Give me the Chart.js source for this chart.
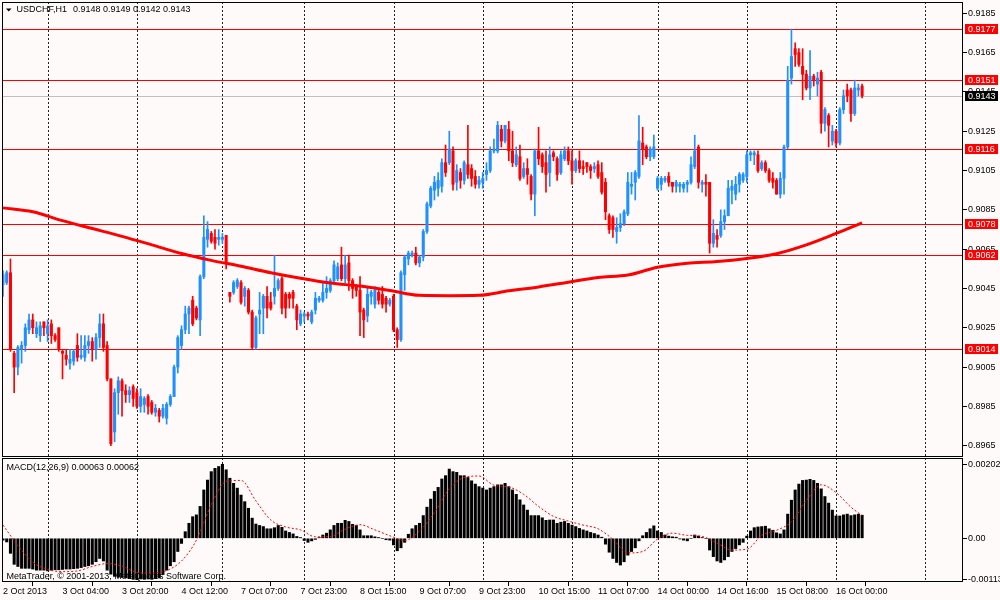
<!DOCTYPE html>
<html>
<head>
<meta charset="utf-8">
<script src="https://cdn.jsdelivr.net/npm/chart.js@4.4.1/dist/chart.umd.min.js"></script>
<style>
html, body { margin: 0; padding: 0; background: #FFFAFA; }
#wrap { position: relative; width: 1000px; height: 600px; background: #FFFAFA; overflow: hidden; }
#main { position: absolute; left: 0; top: 0; }
#macd { position: absolute; left: 0; top: 457px; }
</style>
</head>
<body>
<div id="wrap">
  <canvas id="main" width="1000" height="458"></canvas>
  <canvas id="macd" width="1000" height="143"></canvas>
</div>
<script>
// USDCHF H1, one entry per hourly bar (232 bars)
const opens = [
  0.9047,0.9048,0.9053,0.9012,0.9005,0.9014,0.9016,0.9024,0.9029,0.9022,
  0.9021,0.9028,0.9022,0.9027,0.9021,0.9025,0.9013,0.9011,0.9007,0.9008,
  0.9016,0.9010,0.9010,0.9016,0.9018,0.9014,0.9020,0.9027,0.9016,0.8999,
  0.8972,0.8992,0.8998,0.8993,0.8991,0.8995,0.8992,0.8985,0.8986,0.8990,
  0.8987,0.8982,0.8983,0.8980,0.8979,0.8986,0.8990,0.9005,0.9016,0.9024,
  0.9032,0.9039,0.9035,0.9029,0.9051,0.9070,0.9073,0.9071,0.9070,0.9070,
  0.9072,0.9043,0.9043,0.9046,0.9048,0.9041,0.9044,0.9033,0.9015,0.9032,
  0.9035,0.9041,0.9038,0.9041,0.9045,0.9050,0.9042,0.9042,0.9043,0.9036,
  0.9027,0.9031,0.9032,0.9028,0.9034,0.9039,0.9039,0.9043,0.9044,0.9049,
  0.9050,0.9057,0.9050,0.9058,0.9049,0.9046,0.9044,0.9034,0.9031,0.9041,
  0.9037,0.9043,0.9042,0.9040,0.9037,0.9041,0.9024,0.9019,0.9052,0.9060,
  0.9062,0.9063,0.9058,0.9061,0.9074,0.9087,0.9095,0.9096,0.9097,0.9109,
  0.9109,0.9115,0.9099,0.9104,0.9100,0.9108,0.9106,0.9102,0.9098,0.9099,
  0.9103,0.9105,0.9115,0.9115,0.9126,0.9120,0.9126,0.9115,0.9108,0.9112,
  0.9102,0.9106,0.9102,0.9093,0.9115,0.9113,0.9109,0.9104,0.9114,0.9111,
  0.9104,0.9111,0.9115,0.9110,0.9105,0.9110,0.9107,0.9109,0.9107,0.9106,
  0.9108,0.9104,0.9099,0.9082,0.9081,0.9074,0.9076,0.9078,0.9083,0.9097,
  0.9099,0.9102,0.9119,0.9117,0.9112,0.9112,0.9096,0.9098,0.9100,0.9102,
  0.9099,0.9097,0.9097,0.9096,0.9098,0.9099,0.9107,0.9117,0.9098,0.9099,
  0.9099,0.9068,0.9072,0.9072,0.9079,0.9082,0.9095,0.9093,0.9098,0.9100,
  0.9102,0.9113,0.9113,0.9113,0.9106,0.9109,0.9105,0.9101,0.9100,0.9093,
  0.9101,0.9117,0.9152,0.9167,0.9165,0.9158,0.9154,0.9147,0.9153,0.9149,
  0.9155,0.9129,0.9133,0.9120,0.9125,0.9119,0.9136,0.9146,0.9146,0.9134,
  0.9146,0.9148
];
const highs = [
  0.9054,0.9054,0.9060,0.9013,0.9016,0.9018,0.9027,0.9032,0.9032,0.9028,
  0.9028,0.9028,0.9029,0.9029,0.9022,0.9025,0.9014,0.9014,0.9014,0.9014,
  0.9022,0.9021,0.9021,0.9021,0.9020,0.9022,0.9032,0.9032,0.9018,0.8999,
  0.8994,0.9000,0.8999,0.8996,0.8995,0.8996,0.8994,0.8994,0.8990,0.8991,
  0.8988,0.8986,0.8984,0.8986,0.8987,0.8991,0.9006,0.9021,0.9026,0.9036,
  0.9036,0.9041,0.9036,0.9052,0.9082,0.9079,0.9074,0.9075,0.9075,0.9073,
  0.9072,0.9043,0.9049,0.9050,0.9049,0.9046,0.9045,0.9034,0.9031,0.9043,
  0.9042,0.9046,0.9043,0.9062,0.9050,0.9051,0.9043,0.9043,0.9044,0.9037,
  0.9034,0.9033,0.9033,0.9034,0.9043,0.9041,0.9048,0.9051,0.9050,0.9059,
  0.9058,0.9066,0.9062,0.9062,0.9050,0.9047,0.9051,0.9035,0.9046,0.9044,
  0.9046,0.9044,0.9046,0.9041,0.9040,0.9042,0.9025,0.9054,0.9062,0.9064,
  0.9064,0.9066,0.9062,0.9075,0.9089,0.9097,0.9102,0.9104,0.9111,0.9118,
  0.9125,0.9117,0.9108,0.9106,0.9110,0.9128,0.9108,0.9105,0.9102,0.9104,
  0.9109,0.9117,0.9121,0.9130,0.9128,0.9128,0.9130,0.9125,0.9117,0.9118,
  0.9109,0.9111,0.9103,0.9116,0.9127,0.9114,0.9115,0.9117,0.9115,0.9112,
  0.9115,0.9117,0.9117,0.9115,0.9111,0.9115,0.9110,0.9109,0.9108,0.9109,
  0.9110,0.9109,0.9101,0.9083,0.9082,0.9081,0.9083,0.9085,0.9104,0.9104,
  0.9105,0.9133,0.9127,0.9118,0.9117,0.9123,0.9102,0.9102,0.9102,0.9104,
  0.9099,0.9100,0.9099,0.9099,0.9100,0.9112,0.9123,0.9118,0.9100,0.9103,
  0.9099,0.9080,0.9075,0.9085,0.9085,0.9100,0.9100,0.9102,0.9104,0.9104,
  0.9115,0.9115,0.9115,0.9115,0.9110,0.9110,0.9106,0.9104,0.9101,0.9104,
  0.9118,0.9158,0.9177,0.9170,0.9167,0.9167,0.9156,0.9166,0.9154,0.9155,
  0.9156,0.9137,0.9134,0.9128,0.9126,0.9137,0.9146,0.9149,0.9147,0.9151,
  0.9149,0.9149
];
const lows = [
  0.9041,0.9047,0.9013,0.8992,0.9001,0.9007,0.9013,0.9022,0.9022,0.9020,
  0.9018,0.9021,0.9018,0.9017,0.9018,0.9013,0.8999,0.9006,0.9004,0.9006,
  0.9008,0.9009,0.9008,0.9012,0.9008,0.9009,0.9015,0.9013,0.8998,0.8965,
  0.8967,0.8981,0.8980,0.8987,0.8987,0.8985,0.8984,0.8982,0.8982,0.8981,
  0.8981,0.8980,0.8977,0.8979,0.8976,0.8985,0.8990,0.9002,0.9014,0.9022,
  0.9022,0.9026,0.9029,0.9021,0.9050,0.9066,0.9068,0.9065,0.9067,0.9068,
  0.9055,0.9038,0.9042,0.9045,0.9037,0.9036,0.9032,0.9014,0.9014,0.9022,
  0.9022,0.9030,0.9034,0.9037,0.9044,0.9032,0.9030,0.9035,0.9035,0.9024,
  0.9026,0.9028,0.9029,0.9027,0.9032,0.9038,0.9038,0.9040,0.9043,0.9048,
  0.9049,0.9049,0.9048,0.9044,0.9040,0.9041,0.9021,0.9020,0.9028,0.9037,
  0.9035,0.9037,0.9035,0.9033,0.9036,0.9023,0.9015,0.9018,0.9044,0.9057,
  0.9061,0.9057,0.9056,0.9059,0.9073,0.9086,0.9090,0.9092,0.9094,0.9102,
  0.9108,0.9095,0.9095,0.9096,0.9098,0.9101,0.9097,0.9096,0.9096,0.9096,
  0.9100,0.9104,0.9114,0.9114,0.9117,0.9119,0.9110,0.9107,0.9107,0.9100,
  0.9101,0.9098,0.9090,0.9082,0.9108,0.9104,0.9094,0.9097,0.9110,0.9100,
  0.9103,0.9110,0.9108,0.9098,0.9104,0.9104,0.9103,0.9104,0.9101,0.9104,
  0.9101,0.9093,0.9080,0.9073,0.9071,0.9068,0.9074,0.9077,0.9082,0.9093,
  0.9090,0.9101,0.9108,0.9111,0.9110,0.9111,0.9095,0.9095,0.9099,0.9097,
  0.9094,0.9094,0.9094,0.9094,0.9094,0.9098,0.9106,0.9096,0.9094,0.9092,
  0.9063,0.9066,0.9066,0.9071,0.9075,0.9082,0.9088,0.9090,0.9094,0.9099,
  0.9099,0.9110,0.9108,0.9104,0.9105,0.9104,0.9099,0.9096,0.9093,0.9091,
  0.9093,0.9116,0.9149,0.9158,0.9158,0.9141,0.9146,0.9141,0.9148,0.9143,
  0.9124,0.9125,0.9117,0.9118,0.9117,0.9118,0.9134,0.9140,0.9130,0.9133,
  0.9143,0.9142
];
const closes = [
  0.9052,0.9053,0.9014,0.9005,0.9015,0.9016,0.9025,0.9029,0.9025,0.9025,
  0.9026,0.9025,0.9026,0.9021,0.9019,0.9014,0.9012,0.9009,0.9009,0.9013,
  0.9010,0.9011,0.9016,0.9018,0.9014,0.9020,0.9027,0.9015,0.8999,0.8966,
  0.8992,0.8998,0.8993,0.8991,0.8993,0.8989,0.8985,0.8990,0.8989,0.8985,
  0.8982,0.8984,0.8980,0.8984,0.8986,0.8990,0.9005,0.9020,0.9024,0.9032,
  0.9035,0.9027,0.9030,0.9051,0.9071,0.9075,0.9069,0.9068,0.9071,0.9071,
  0.9058,0.9041,0.9048,0.9049,0.9038,0.9045,0.9033,0.9015,0.9030,0.9034,
  0.9041,0.9035,0.9035,0.9045,0.9049,0.9035,0.9035,0.9040,0.9040,0.9029,
  0.9032,0.9032,0.9031,0.9033,0.9040,0.9040,0.9043,0.9045,0.9049,0.9057,
  0.9056,0.9050,0.9057,0.9049,0.9045,0.9044,0.9033,0.9029,0.9042,0.9043,
  0.9044,0.9039,0.9037,0.9037,0.9039,0.9024,0.9019,0.9053,0.9061,0.9063,
  0.9063,0.9058,0.9061,0.9074,0.9088,0.9096,0.9099,0.9100,0.9109,0.9104,
  0.9116,0.9098,0.9105,0.9100,0.9109,0.9103,0.9101,0.9098,0.9100,0.9101,
  0.9105,0.9115,0.9116,0.9128,0.9120,0.9128,0.9115,0.9109,0.9113,0.9101,
  0.9106,0.9103,0.9093,0.9115,0.9111,0.9107,0.9103,0.9113,0.9112,0.9103,
  0.9113,0.9115,0.9110,0.9105,0.9110,0.9106,0.9106,0.9107,0.9105,0.9107,
  0.9102,0.9094,0.9084,0.9075,0.9075,0.9076,0.9078,0.9084,0.9099,0.9098,
  0.9104,0.9120,0.9116,0.9112,0.9116,0.9117,0.9101,0.9101,0.9101,0.9099,
  0.9097,0.9099,0.9098,0.9098,0.9099,0.9108,0.9115,0.9099,0.9099,0.9098,
  0.9068,0.9073,0.9070,0.9079,0.9082,0.9096,0.9097,0.9098,0.9103,0.9103,
  0.9113,0.9114,0.9114,0.9105,0.9109,0.9105,0.9100,0.9099,0.9093,0.9101,
  0.9117,0.9151,0.9163,0.9164,0.9159,0.9154,0.9147,0.9153,0.9151,0.9152,
  0.9129,0.9136,0.9128,0.9125,0.9119,0.9136,0.9143,0.9143,0.9134,0.9147,
  0.9147,0.9143
];

// 200-period moving average, read every 8th bar (last point = last bar)
const maBars = [0,8,16,24,32,40,48,56,64,72,80,88,96,104,112,120,128,136,144,152,160,168,176,184,192,200,208,216,224,231];
const maValues = [
  0.9086,0.9084,0.90795,0.90755,0.90715,0.90672,0.90628,0.90593,0.90563,0.9053,
  0.90502,0.90478,0.90462,0.9044,0.90415,0.90413,0.90415,0.90438,0.90458,0.90482,
  0.90506,0.90518,0.90558,0.90578,0.90587,0.90603,0.90627,0.90672,0.9073,0.90784
];

// MACD(12,26,9) main line, one per bar
const macdHist = [
  -0.00005,-0.00010,-0.00041,-0.00071,-0.00077,-0.00082,-0.00082,-0.00082,-0.00084,-0.00087,
  -0.00087,-0.00087,-0.00089,-0.00087,-0.00086,-0.00086,-0.00085,-0.00084,-0.00084,-0.00083,
  -0.00082,-0.00080,-0.00077,-0.00075,-0.00071,-0.00064,-0.00055,-0.00062,-0.00087,-0.00098,
  -0.00104,-0.00106,-0.00107,-0.00108,-0.00110,-0.00112,-0.00113,-0.00111,-0.00112,-0.00111,
  -0.00112,-0.00110,-0.00108,-0.00099,-0.00087,-0.00075,-0.00064,-0.00036,-0.00014,0.00018,
  0.00041,0.00059,0.00064,0.00087,0.00132,0.00159,0.00182,0.00191,0.00196,0.00202,
  0.00187,0.00164,0.00150,0.00137,0.00118,0.00100,0.00082,0.00055,0.00039,0.00035,
  0.00032,0.00026,0.00026,0.00029,0.00035,0.00030,0.00020,0.00016,0.00012,0.00005,
  0.00002,-0.00006,-0.00011,-0.00007,-0.00003,0.00002,0.00009,0.00014,0.00023,0.00035,
  0.00041,0.00041,0.00049,0.00046,0.00038,0.00035,0.00023,0.00007,0.00007,0.00007,
  0.00004,0.00002,0.00000,-0.00004,-0.00005,-0.00018,-0.00034,-0.00026,-0.00011,0.00011,
  0.00026,0.00035,0.00041,0.00062,0.00085,0.00107,0.00128,0.00139,0.00162,0.00171,
  0.00189,0.00182,0.00180,0.00171,0.00171,0.00166,0.00157,0.00148,0.00141,0.00137,
  0.00132,0.00137,0.00141,0.00146,0.00146,0.00150,0.00141,0.00132,0.00120,0.00105,
  0.00091,0.00077,0.00062,0.00062,0.00062,0.00056,0.00049,0.00050,0.00050,0.00041,
  0.00044,0.00046,0.00041,0.00036,0.00032,0.00027,0.00023,0.00020,0.00016,0.00013,
  0.00009,0.00003,-0.00016,-0.00038,-0.00055,-0.00066,-0.00073,-0.00064,-0.00046,-0.00036,
  -0.00026,-0.00007,0.00007,0.00016,0.00026,0.00034,0.00020,0.00016,0.00009,0.00006,
  0.00004,0.00003,-0.00002,-0.00005,-0.00007,0.00000,0.00009,0.00006,0.00002,0.00000,
  -0.00032,-0.00050,-0.00062,-0.00066,-0.00059,-0.00050,-0.00036,-0.00028,-0.00018,-0.00011,
  0.00006,0.00020,0.00029,0.00031,0.00032,0.00033,0.00026,0.00022,0.00015,0.00012,
  0.00023,0.00066,0.00104,0.00132,0.00148,0.00158,0.00159,0.00161,0.00158,0.00150,
  0.00135,0.00114,0.00096,0.00077,0.00061,0.00061,0.00064,0.00066,0.00062,0.00064,
  0.00066,0.00063
];

// signal line, read every 4th bar (last point = last bar)
const signalBars = [0,4,8,12,16,20,24,28,32,36,40,44,48,52,56,60,64,68,72,76,80,84,88,92,96,100,104,108,112,116,
  120,124,128,132,136,140,144,148,152,156,160,164,168,172,176,180,184,188,192,196,200,204,208,212,216,220,224,228,231];
const signalValues = [
  0.00036,-0.00020,-0.00065,-0.00085,-0.00091,-0.00089,-0.00077,-0.00069,-0.00076,-0.00093,
  -0.00095,-0.00088,-0.00062,-0.00005,0.00092,0.00155,0.00158,0.00102,0.00050,0.00031,
  0.00023,0.00004,0.00005,0.00025,0.00037,0.00023,0.00007,-0.00006,0.00020,0.00070,
  0.00135,0.00166,0.00170,0.00145,0.00140,0.00120,0.00087,0.00060,0.00047,0.00036,
  0.00026,-0.00003,-0.00040,-0.00036,-0.00002,0.00014,0.00008,0.00005,-0.00013,-0.00032,
  -0.00030,0.00008,0.00022,0.00045,0.00103,0.00146,0.00125,0.00085,0.00062
];

const levels = [0.9177, 0.9151, 0.9116, 0.9078, 0.9062, 0.9014];
const priceTicks = [0.9185,0.9165,0.9145,0.9125,0.9105,0.9085,0.9065,0.9045,0.9025,0.9005,0.8985,0.8965];
const macdTicks = [0.00202, 0, -0.00113];
const timeLabels = ['2 Oct 2013','3 Oct 04:00','3 Oct 20:00','4 Oct 12:00','7 Oct 07:00','7 Oct 23:00',
  '8 Oct 15:00','9 Oct 07:00','9 Oct 23:00','10 Oct 15:00','11 Oct 07:00','14 Oct 00:00',
  '14 Oct 16:00','15 Oct 08:00','16 Oct 00:00'];
const labelBars = timeLabels.map((_, k) => k * 16);
const gridBars = [12, 36, 59, 81, 105, 129, 153, 176, 200, 224, 248];

const BG = '#FFFAFA';
const BULL = '#1E90FF';
const BEAR = '#FF0000';
const FONT = '"Liberation Sans", Arial, sans-serif';
const X_MIN = -0.27, X_MAX = 258.13;
const n = closes.length;

Chart.defaults.font.family = FONT;
Chart.defaults.font.size = 9;
Chart.defaults.color = '#000';

const idx = closes.map((_, i) => i);
const candleColors = idx.map(i => closes[i] >= opens[i] ? BULL : BEAR);

// keep the plot area where the layout padding puts it (no room for edge labels)
function noEdgePadding(s) {
  s.paddingTop = 0; s.paddingBottom = 0; s.paddingLeft = 0; s.paddingRight = 0;
}

function drawGrid(chart) {
  const { ctx, chartArea: a, scales: { x } } = chart;
  ctx.save();
  ctx.strokeStyle = '#222';
  ctx.lineWidth = 1;
  ctx.setLineDash([2, 2]);
  gridBars.forEach(b => {
    const px = Math.round(x.getPixelForValue(b)) + 0.5;
    if (px < a.left || px > a.right) return;
    ctx.beginPath();
    ctx.moveTo(px, a.top);
    ctx.lineTo(px, a.bottom);
    ctx.stroke();
  });
  ctx.restore();
}

function drawFrame(chart) {
  const { ctx, chartArea: a } = chart;
  ctx.save();
  ctx.strokeStyle = '#000';
  ctx.lineWidth = 1;
  ctx.strokeRect(a.left + 0.5, a.top + 0.5, a.right - a.left - 1, a.bottom - a.top - 1);
  ctx.restore();
}

const bgPlugin = {
  id: 'bg',
  beforeDraw(chart) {
    const { ctx, width, height } = chart;
    ctx.save();
    ctx.fillStyle = BG;
    ctx.fillRect(0, 0, width, height);
    ctx.restore();
  }
};

const mainPlugin = {
  id: 'mainDecor',
  beforeDatasetsDraw(chart) {
    const { ctx, chartArea: a, scales: { y } } = chart;
    drawGrid(chart);
    ctx.save();
    ctx.lineWidth = 1;
    ctx.strokeStyle = '#C0C0C0';
    let py = Math.round(y.getPixelForValue(closes[n - 1])) + 0.5;
    ctx.beginPath(); ctx.moveTo(a.left, py); ctx.lineTo(a.right, py); ctx.stroke();
    ctx.strokeStyle = '#FF0000';
    levels.forEach(v => {
      const ly = Math.round(y.getPixelForValue(v)) + 0.5;
      ctx.beginPath(); ctx.moveTo(a.left, ly); ctx.lineTo(a.right, ly); ctx.stroke();
    });
    ctx.restore();
  },
  afterDraw(chart) {
    const { ctx, chartArea: a, scales: { y } } = chart;
    drawFrame(chart);
    ctx.save();
    ctx.font = '9px ' + FONT;
    ctx.textBaseline = 'middle';
    ctx.textAlign = 'left';
    const box = (v, bg) => {
      const cy = Math.round(y.getPixelForValue(v));
      ctx.fillStyle = bg;
      ctx.fillRect(a.right + 2, cy - 5, 33, 10);
      ctx.fillStyle = '#fff';
      ctx.fillText(v.toFixed(4), a.right + 5, cy + 0.5);
    };
    levels.forEach(v => box(v, '#FF0000'));
    box(closes[n - 1], '#000');

    // title
    ctx.fillStyle = '#000';
    ctx.beginPath();
    ctx.moveTo(6, 8.5); ctx.lineTo(11.5, 8.5); ctx.lineTo(8.75, 11.5); ctx.closePath();
    ctx.fill();
    ctx.fillText('USDCHF,H1', 16.5, 10);
    const ohlc = [opens[n - 1], highs[n - 1], lows[n - 1], closes[n - 1]].map(v => v.toFixed(4)).join(' ');
    ctx.fillText(ohlc, 73, 10);
    ctx.restore();
  }
};

const macdPlugin = {
  id: 'macdDecor',
  beforeDatasetsDraw(chart) { drawGrid(chart); },
  afterDraw(chart) {
    const { ctx } = chart;
    drawFrame(chart);
    ctx.save();
    ctx.font = '9px ' + FONT;
    ctx.textBaseline = 'middle';
    ctx.textAlign = 'left';
    ctx.fillStyle = '#000';
    const label = 'MACD(12,26,9) ' + macdHist[n - 1].toFixed(5) + ' ' + signalValues[signalValues.length - 1].toFixed(5);
    ctx.fillText(label, 6.5, 10.5);
    ctx.fillText('MetaTrader, \u00A9 2001-2013, MetaQuotes Software Corp.', 6.5, 119.5);
    ctx.restore();
  }
};

new Chart(document.getElementById('main'), {
  type: 'bar',
  data: {
    datasets: [
      {
        type: 'line',
        data: maBars.map((b, k) => ({ x: b, y: maValues[k] })),
        borderColor: '#FF0000',
        borderWidth: 3,
        pointRadius: 0,
        cubicInterpolationMode: 'monotone',
        fill: false
      },
      {
        data: idx.map(i => ({ x: i, y: [opens[i], closes[i]] })),
        backgroundColor: candleColors,
        barThickness: 2.4,
        minBarLength: 1,
        grouped: false,
        borderWidth: 0
      },
      {
        data: idx.map(i => ({ x: i, y: [lows[i], highs[i]] })),
        backgroundColor: candleColors,
        barThickness: 1,
        grouped: false,
        borderWidth: 0
      }
    ]
  },
  options: {
    responsive: false,
    animation: false,
    events: [],
    layout: { padding: { left: 2, top: 2, right: 0, bottom: 1 } },
    plugins: { legend: { display: false }, tooltip: { enabled: false } },
    scales: {
      x: { type: 'linear', min: X_MIN, max: X_MAX, offset: false, display: false },
      y: {
        type: 'linear',
        position: 'right',
        min: 0.895925,
        max: 0.919075,
        afterBuildTicks: s => { s.ticks = priceTicks.map(v => ({ value: v })); },
        afterFit: s => { s.width = 37; noEdgePadding(s); },
        ticks: { padding: 1, color: '#000', callback: v => v.toFixed(4) },
        grid: { drawOnChartArea: false, tickLength: 4, color: '#000' },
        border: { display: false }
      }
    }
  },
  plugins: [bgPlugin, mainPlugin]
});

new Chart(document.getElementById('macd'), {
  type: 'bar',
  data: {
    datasets: [
      {
        type: 'line',
        data: signalBars.map((b, k) => ({ x: b, y: signalValues[k] })),
        borderColor: '#FF0000',
        borderWidth: 1,
        borderDash: [2, 2],
        pointRadius: 0,
        cubicInterpolationMode: 'monotone',
        fill: false
      },
      {
        data: idx.map(i => ({ x: i, y: macdHist[i] })),
        backgroundColor: '#000',
        barThickness: 2.4,
        grouped: false,
        borderWidth: 0
      }
    ]
  },
  options: {
    responsive: false,
    animation: false,
    events: [],
    layout: { padding: { left: 2, top: 1, right: 0, bottom: 0 } },
    plugins: { legend: { display: false }, tooltip: { enabled: false } },
    scales: {
      x: {
        type: 'linear',
        min: X_MIN,
        max: X_MAX,
        offset: false,
        position: 'bottom',
        afterBuildTicks: s => { s.ticks = labelBars.map(v => ({ value: v })); },
        afterFit: s => { s.height = 18; noEdgePadding(s); },
        ticks: {
          align: 'start', maxRotation: 0, autoSkip: false, padding: 0, color: '#000',
          callback: v => timeLabels[labelBars.indexOf(v)]
        },
        grid: { drawOnChartArea: false, tickLength: 4, color: '#000' },
        border: { display: false }
      },
      y: {
        type: 'linear',
        position: 'right',
        min: -0.001193,
        max: 0.002192,
        afterBuildTicks: s => { s.ticks = macdTicks.map(v => ({ value: v })); },
        afterFit: s => { s.width = 37; noEdgePadding(s); },
        ticks: { padding: 1, color: '#000', callback: v => v === 0 ? '0.00' : v.toFixed(5) },
        grid: { drawOnChartArea: false, tickLength: 4, color: '#000' },
        border: { display: false }
      }
    }
  },
  plugins: [bgPlugin, macdPlugin]
});
</script>
</body>
</html>
